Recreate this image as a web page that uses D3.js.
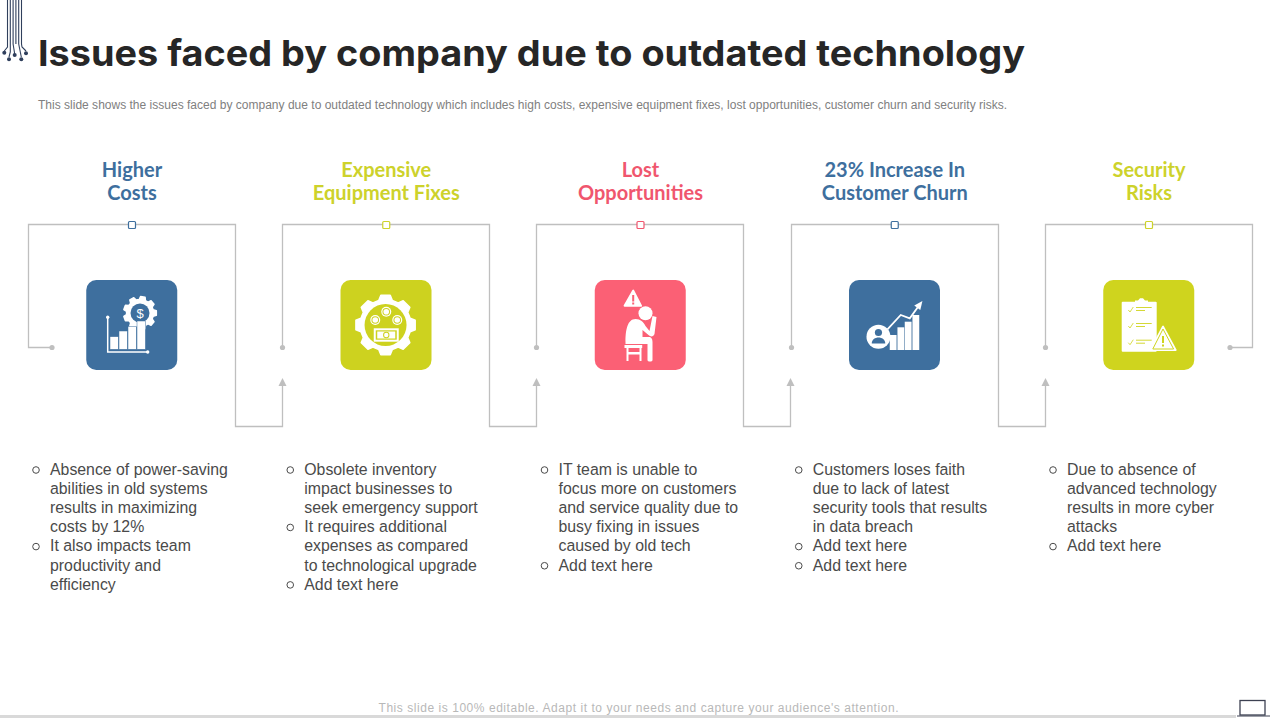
<!DOCTYPE html>
<html><head><meta charset="utf-8">
<script src="https://cdn.jsdelivr.net/npm/d3@7/dist/d3.min.js"></script>
<style>html,body{margin:0;padding:0;background:#fff}svg{display:block}</style>
</head><body><svg id="c" width="1280" height="720"></svg>
<script>
const titleText = "Issues faced by company due to outdated technology";
const subtitleText = "This slide shows the issues faced by company due to outdated technology which includes high costs, expensive equipment fixes, lost opportunities, customer churn and security risks.";
const footerText = "This slide is 100% editable. Adapt it to your needs and capture your audience's attention.";
const headings = [["Higher","Costs"],["Expensive","Equipment Fixes"],["Lost","Opportunities"],["23% Increase In","Customer Churn"],["Security","Risks"]];
const colors = ["#3e6f9e","#cdd21f","#fb6075","#3e6f9e","#cfd41e"];
const headColors = ["#3e6f9e","#cdd22b","#f0566e","#3e6f9e","#cdd22b"];
const bullets = [
 [["Absence of power-saving","abilities in old systems","results in maximizing","costs by 12%"],["It also impacts team","productivity and","efficiency"]],
 [["Obsolete inventory","impact businesses to","seek emergency support"],["It requires additional","expenses as compared","to technological upgrade"],["Add text here"]],
 [["IT team is unable to","focus more on customers","and service quality due to","busy fixing in issues","caused by old tech"],["Add text here"]],
 [["Customers loses faith","due to lack of latest","security tools that results","in data breach"],["Add text here"],["Add text here"]],
 [["Due to absence of","advanced technology","results in more cyber","attacks"],["Add text here"]]
];
const svg = d3.select("#c");
const X = d3.scaleLinear().domain([0,4]).range([132,1149]);
const grey = "#bfbfbf";
const frameLeft = [28.5,282.5,536.5,791.5,1045.5];
const arrowX = [282.5,536.5,790.5,1045.5];

// header
svg.append("text").attr("x",38).attr("y",65.5).attr("font-family","Inter").attr("font-weight",700).attr("font-size",36).attr("fill","#262626").attr("textLength",987).attr("lengthAdjust","spacingAndGlyphs").text(titleText);
svg.append("text").attr("x",38).attr("y",108.5).attr("font-family","'Liberation Sans'").attr("font-size",12).attr("fill","#808080").attr("textLength",969).attr("lengthAdjust","spacing").text(subtitleText);

// circuit ornament
const navy="#2f3f5c", circ=svg.append("g").attr("fill","none").attr("stroke",navy).attr("stroke-width",1.1);
[7.5,10.3,13.1,15.9,18.7,21.5].forEach(x=>circ.append("line").attr("x1",x).attr("x2",x).attr("y1",0).attr("y2",44));
[["M7.5 44L7.5 47L4.3 51",4.3,52.7],["M10.3 44L10.3 52L9 57",9,59.3],["M13.1 44L14.7 54",14.7,55],["M18.7 44L21.3 57",21.3,59.3],["M21.5 44L22 47L26 51",26,53.3]].forEach(([d,cx,cy])=>{
 circ.append("path").attr("d",d);
 circ.append("circle").attr("cx",cx).attr("cy",cy).attr("r",2).attr("fill",navy).attr("stroke","none");
});

// connector frames
const W = 207;
d3.range(5).forEach(i=>{
 const cx=X(i), l=frameLeft[i], r=l+W, top=224.5, mid=347.5, bot=426.5;
 const g=svg.append("g");
 const dotL = i===0 ? 52 : l;
 let d = i===0 ? `M${dotL} ${mid}H${l}V${top}H${r}` : `M${l} ${mid}V${top}H${r}`;
 if(i<4){
  const nl=arrowX[i];
  d+=`V${bot}H${nl}V384`;
  g.append("path").attr("d",`M${nl} 378L${nl+4} 386H${nl-4}Z`).attr("fill",grey);
 } else {
  d+=`V${mid}H1230`;
  g.append("circle").attr("cx",1230).attr("cy",mid).attr("r",2.6).attr("fill",grey);
 }
 g.append("path").attr("d",d).attr("fill","none").attr("stroke",grey).attr("stroke-width",1.3);
 g.append("circle").attr("cx",dotL).attr("cy",mid).attr("r",2.6).attr("fill",grey);
 g.append("rect").attr("x",cx-3.5).attr("y",221.5).attr("width",7).attr("height",7).attr("rx",1).attr("fill","#fff").attr("stroke",headColors[i]).attr("stroke-width",1.2);
 headings[i].forEach((t,k)=>svg.append("text").attr("x",cx).attr("y",177+k*23).attr("text-anchor","middle").attr("font-family","Lato").attr("font-weight",700).attr("font-size",20).attr("fill",headColors[i]).text(t));
 svg.append("rect").attr("x",cx-45.75).attr("y",280).attr("width",91).attr("height",90).attr("rx",10).attr("fill",colors[i]);
 let row=0;
 bullets[i].forEach(b=>{
  svg.append("circle").attr("cx",cx-96).attr("cy",470+row*19.15).attr("r",3.3).attr("fill","none").attr("stroke","#4a4a4a").attr("stroke-width",1);
  b.forEach(t=>{
   svg.append("text").attr("x",cx-82).attr("y",474.8+row*19.15).attr("font-family","'Liberation Sans'").attr("font-size",15.85).attr("fill","#4a4a4a").text(t);
   row++;
  });
 });
});

// icons, drawn in tile-local coordinates
function tile(i){return svg.append("g").attr("transform",`translate(${X(i)},325)`).attr("fill","#fff");}
function gear(g,cx,cy,R,n,hole,col,tooth){
 const pts=[];
 for(let a=0;a<n;a++){
  const s=a/n*2*Math.PI, st=2*Math.PI/n;
  [[-.34,R],[-.2,R+tooth],[.2,R+tooth],[.34,R]].forEach(([o,r])=>{const t=s+o*st;pts.push([cx+r*Math.cos(t),cy+r*Math.sin(t)]);});
 }
 g.append("path").attr("d",d3.line().curve(d3.curveLinearClosed)(pts)).attr("stroke","#fff").attr("stroke-width",1.5).attr("stroke-linejoin","round");
 g.append("circle").attr("cx",cx).attr("cy",cy).attr("r",R).attr("fill","#fff");
 g.append("circle").attr("cx",cx).attr("cy",cy).attr("r",hole).attr("fill",col);
}
// 0: chart with gear
{const g=tile(0),c=colors[0];
 gear(g,8,-12,13.5,9,9.5,c,3);
 g.append("text").attr("x",8).attr("y",-7).attr("text-anchor","middle").attr("font-family","'Liberation Sans'").attr("font-size",13).text("$");
 [[-22,12.6],[-13,18.3],[-4,23],[5,28.3]].forEach(([x,h])=>g.append("rect").attr("x",x).attr("y",24.3-h).attr("width",8.4).attr("height",h).attr("stroke",c).attr("stroke-width",.5));
 g.append("path").attr("d","M-24.3 -7.7V27H15.7").attr("fill","none").attr("stroke","#fff").attr("stroke-width",1.5);
 g.append("circle").attr("cx",-24.3).attr("cy",-7.7).attr("r",1.7);
 g.append("circle").attr("cx",15.7).attr("cy",27).attr("r",1.7);
}
// 1: big gear with coins and banknote
{const g=tile(1),c=colors[1];
 gear(g,-.7,0,25.5,8,21,c,4.5);
 [[0,-13.3],[-11,-5],[11,-5]].forEach(([x,y])=>{
  g.append("circle").attr("cx",x).attr("cy",y).attr("r",5);
  g.append("circle").attr("cx",x).attr("cy",y).attr("r",3.8).attr("fill",c);
  g.append("circle").attr("cx",x).attr("cy",y).attr("r",2.8);
 });
 g.append("rect").attr("x",-12.5).attr("y",3.3).attr("width",25).attr("height",13.4);
 g.append("rect").attr("x",-10.5).attr("y",5.3).attr("width",21).attr("height",9.4).attr("fill",c);
 g.append("rect").attr("x",-9).attr("y",6.5).attr("width",18).attr("height",7);
 g.append("circle").attr("cx",0).attr("cy",10).attr("r",3.2).attr("fill",c);
 g.append("circle").attr("cx",0).attr("cy",10).attr("r",2.2);
}
// 2: worried person with warning sign
{const g=tile(2),c=colors[2];
 g.append("path").attr("d","M-7.3 -34.5L-16 -19.2H.7Z").attr("stroke","#fff").attr("stroke-width",1.8).attr("stroke-linejoin","round");
 g.append("rect").attr("x",-8.3).attr("y",-30).attr("width",2).attr("height",6.5).attr("fill",c);
 g.append("rect").attr("x",-8.3).attr("y",-22.5).attr("width",2).attr("height",2).attr("fill",c);
 g.append("circle").attr("cx",5).attr("cy",-11.7).attr("r",7);
 g.append("path").attr("d","M-15 17C-15 5 -13 -6 -5 -6C0 -6 3 -3 5 1L9 6L12 -9L16 -8L14 9C13 12 10 12 8 10L2 5V12H8C11 12 12 14 12 17V35C12 37 7 37 7 35V19H-15Z");
 g.append("path").attr("d","M-16 20H1.7V23H-12V36H-14V23H-16ZM-1 23H1V36H-1ZM-12 27H-1V29.5H-12Z");
}
// 3: customer with growth chart
{const g=tile(3),c=colors[3];
 [[-5,10],[2.7,2.3],[10,-3.3],[17.7,-10]].forEach(([x,t])=>g.append("rect").attr("x",x).attr("y",t).attr("width",6.8).attr("height",25-t));
 g.append("path").attr("d","M-7.3 4.3L6 -10L15 -6.7L25 -20.5").attr("fill","none").attr("stroke","#fff").attr("stroke-width",1.8);
 g.append("path").attr("d","M27.7 -24L25.5 -15L19.5 -19.5Z");
 g.append("circle").attr("cx",-16.3).attr("cy",11.7).attr("r",12);
 g.append("circle").attr("cx",-16.3).attr("cy",7.5).attr("r",3.6).attr("fill",c);
 g.append("path").attr("d","M-23 18.5C-23 10.5 -9.5 10.5 -9.5 18.5Z").attr("fill",c);
}
// 4: clipboard with warning
{const g=tile(4),c=colors[4];
 g.append("rect").attr("x",-27.3).attr("y",-23.3).attr("width",35).attr("height",50).attr("rx",1);
 g.append("path").attr("d","M-14 -23V-24.5H-11L-9 -26.7H-6L-4 -24.5H-1V-23Z");
 [-15,1,17.7].forEach(y=>{
  g.append("path").attr("d",`M-20.7 ${y}L-19 ${y+2}L-15.7 ${y-3}`).attr("fill","none").attr("stroke",c).attr("stroke-width",.8);
  g.append("path").attr("d",`M-13 ${y-2.5}H2.7M-13 ${y+.5}H-4`).attr("fill","none").attr("stroke",c).attr("stroke-width",.9);
 });
 g.append("path").attr("d","M14 1.5L1.7 25H26.7Z").attr("fill","#fff").attr("stroke","#fff").attr("stroke-width",1.8).attr("stroke-linejoin","round");
 g.append("path").attr("d","M14 4L3.8 24H24.6Z").attr("fill","#fff").attr("stroke",c).attr("stroke-width",1).attr("stroke-linejoin","round");
 g.append("rect").attr("x",13).attr("y",11).attr("width",2).attr("height",7).attr("fill",c);
 g.append("rect").attr("x",13).attr("y",19.5).attr("width",2).attr("height",2).attr("fill",c);
}

// footer
svg.append("text").attr("x",378.5).attr("y",712).attr("font-family","'Liberation Sans'").attr("font-size",12).attr("fill","#b8b8b8").attr("textLength",520).attr("lengthAdjust","spacing").text(footerText);
svg.append("rect").attr("x",0).attr("y",715).attr("width",1236).attr("height",3).attr("fill","#d9d9d9");
svg.append("rect").attr("x",1240).attr("y",700.5).attr("width",25).attr("height",14.5).attr("fill","#fff").attr("stroke","#3d4152").attr("stroke-width",1.3);
svg.append("line").attr("x1",1237).attr("x2",1270).attr("y1",716).attr("y2",716).attr("stroke","#3d4152").attr("stroke-width",1);
</script></body></html>
